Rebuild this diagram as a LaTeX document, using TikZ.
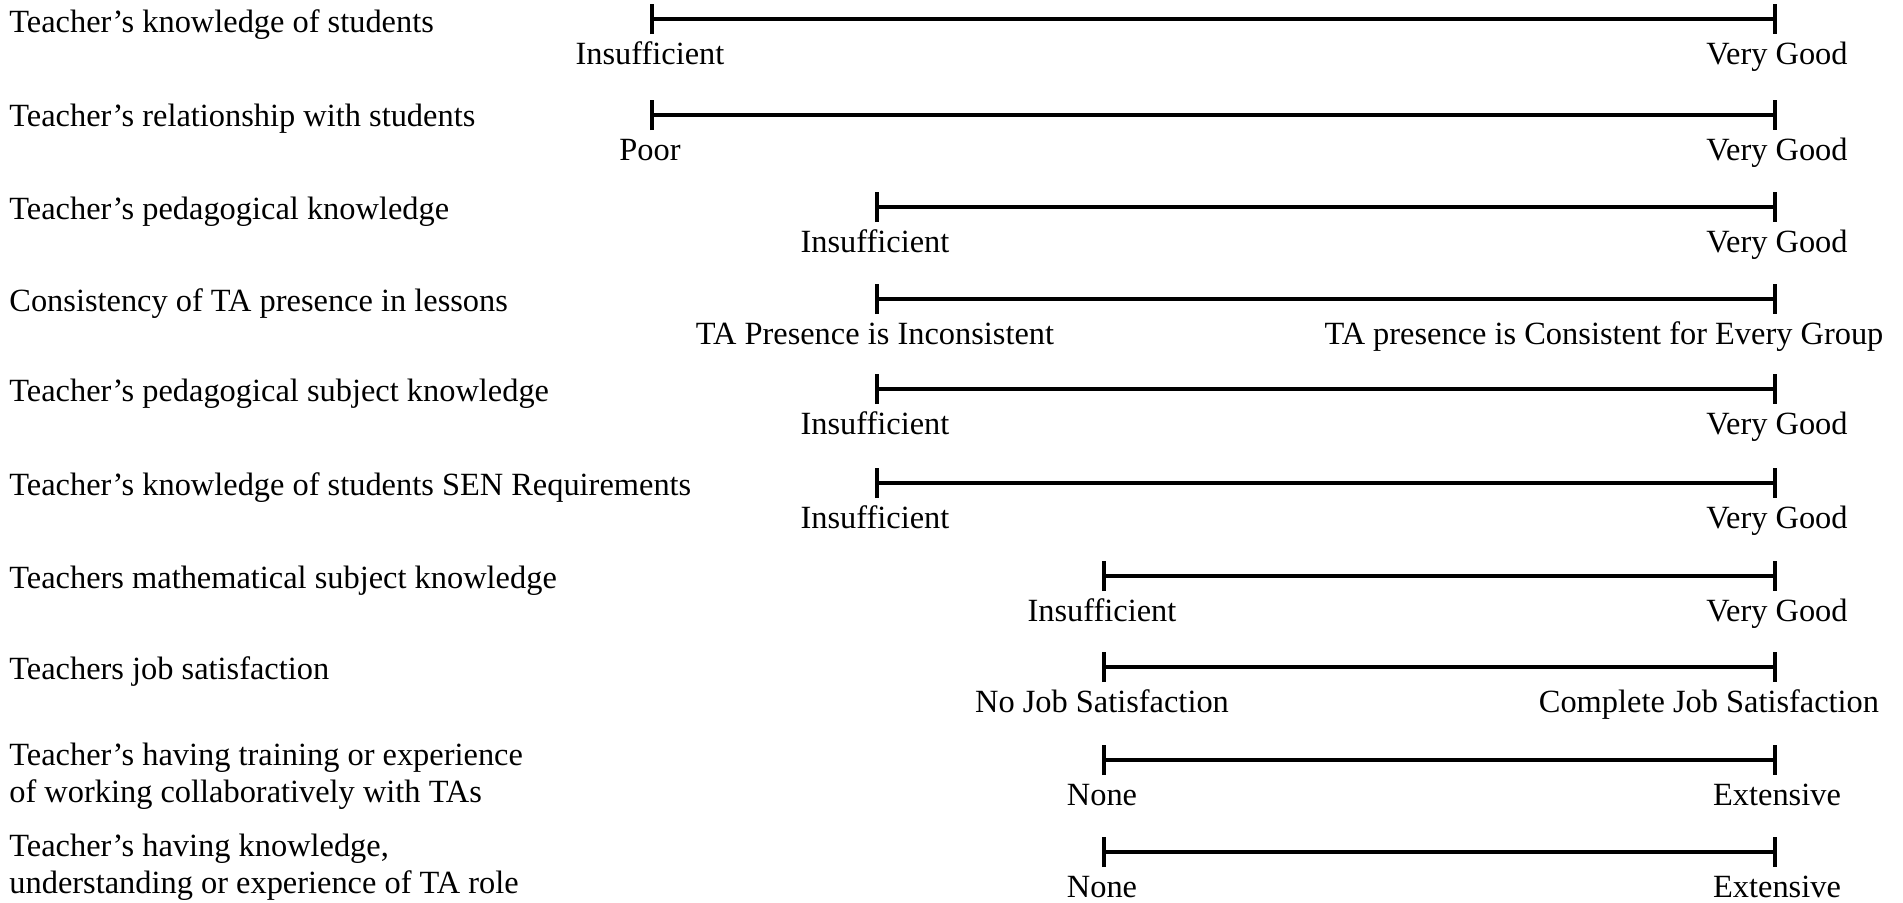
\documentclass[tikz,border=0pt]{standalone}
\usepackage{fontspec}
\setmainfont{Liberation Serif}
\usetikzlibrary{arrows.meta}
\tikzstyle{vertex}=[inner sep=0pt,minimum size=0pt,label distance=0pt]
\newcommand{\vertex}{\node[vertex]}
\tikzstyle{rowtext}=[anchor=base west,inner sep=0pt,align=left]
\tikzstyle{rangeline}=[line width=2pt,{Bar[width=15pt]}-{Bar[width=15pt]}]
\begin{document}
\begin{tikzpicture}[x=0.5pt,y=-0.5pt,font=\fontsize{16.2}{18.3}\selectfont,
	every label/.style={inner sep=0pt,text height=11pt,text depth=3.5pt,yshift=-11.5pt}]
		\useasboundingbox (0,0) rectangle (1903,902);
		% % % % % % % % % % % % % % % % % % % % % % % % % % % % %
		\node[rowtext] (t1) at (9,32) {Teacher’s knowledge of students};
		\node[rowtext] (t2) at (9,126) {Teacher’s relationship with students};
		\node[rowtext] (t3) at (9,219) {Teacher’s pedagogical knowledge};
		\node[rowtext] (t4) at (9,311) {Consistency of TA presence in lessons};
		\node[rowtext] (t5) at (9,401) {Teacher’s pedagogical subject knowledge};
		\node[rowtext] (t6) at (9,495) {Teacher’s knowledge of students SEN Requirements};
		\node[rowtext] (t7) at (9,588) {Teachers mathematical subject knowledge};
		\node[rowtext] (t8) at (9,679) {Teachers job satisfaction};
		\node[rowtext] (t9) at (9,802) {Teacher’s having training or experience\\of working collaboratively with TAs};
		\node[rowtext] (t10) at (9,893) {Teacher’s having knowledge,\\understanding or experience of TA role};
		% % % % % % % % % % % % % % % % % % % % % % % % % % % % %
		%*********************
		\vertex [label={below:Insufficient}] (a1) at (650,19) {};
		\vertex [label={below:Very Good}] (a2) at (1777,19) {};
		%*********************
		\vertex [label={below:Poor}] (b1) at (650,115) {};
		\vertex [label={below:Very Good}] (b2) at (1777,115) {};
		%*********************
		\vertex [label={below:Insufficient}] (c1) at (875,207) {};
		\vertex [label={below:Very Good}] (c2) at (1777,207) {};
		%*********************
		\vertex [label={below:TA Presence is Inconsistent}] (d1) at (875,299) {};
		\vertex [label={[xshift=-86.5pt]below:TA presence is Consistent for Every Group}] (d2) at (1777,299) {};
		%*********************
		\vertex [label={below:Insufficient}] (e1) at (875,389) {};
		\vertex [label={below:Very Good}] (e2) at (1777,389) {};
		%*********************
		\vertex [label={below:Insufficient}] (f1) at (875,483) {};
		\vertex [label={below:Very Good}] (f2) at (1777,483) {};
		%*********************
		\vertex [label={below:Insufficient}] (g1) at (1102,576) {};
		\vertex [label={below:Very Good}] (g2) at (1777,576) {};
		%*********************
		\vertex [label={below:No Job Satisfaction}] (h1) at (1102,667) {};
		\vertex [label={[xshift=-34pt]below:Complete Job Satisfaction}] (h2) at (1777,667) {};
		%*********************
		\vertex [label={below:None}] (i1) at (1102,760) {};
		\vertex [label={below:Extensive}] (i2) at (1777,760) {};
		%*********************
		\vertex [label={below:None}] (j1) at (1102,852) {};
		\vertex [label={below:Extensive}] (j2) at (1777,852) {};
		%***************

		\path
		% % % % % % % % % % % % % % % % %
		(a1) edge [rangeline] (a2)
		(b1) edge [rangeline] (b2)
		(c1) edge [rangeline] (c2)
		(d1) edge [rangeline] (d2)
		(e1) edge [rangeline] (e2)
		(f1) edge [rangeline] (f2)
		(g1) edge [rangeline] (g2)
		(h1) edge [rangeline] (h2)
		(i1) edge [rangeline] (i2)
		(j1) edge [rangeline] (j2)
		%********************
		;
\end{tikzpicture}
\end{document}
